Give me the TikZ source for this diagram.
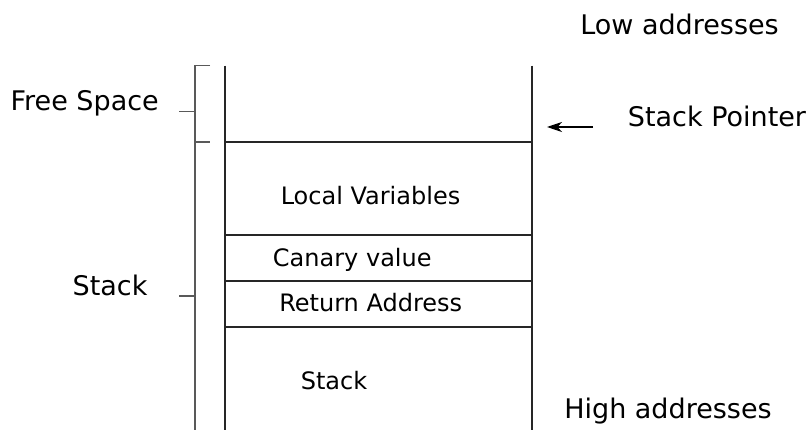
\documentclass[tikz,border=0pt]{standalone}
\usepackage{fontspec}
\setmainfont{DejaVu Sans}
\usetikzlibrary{arrows.meta}
\begin{document}
\begin{tikzpicture}[x=1pt,y=-1pt,
  wall/.style={line width=1.6pt,black!85},
  brk/.style={line width=1.6pt,black!65},
  big/.style={anchor=base,inner sep=0pt,font=\fontsize{27}{30}\selectfont},
  small/.style={anchor=base,inner sep=0pt,font=\fontsize{24}{28}\selectfont}]
\useasboundingbox (0,0) rectangle (808,430);
% frame coordinates
\coordinate (wlt) at (225,65.7);
\coordinate (wlb) at (225,430);
\coordinate (wrt) at (532,65.7);
\coordinate (wrb) at (532,430);
\foreach \n/\y in {1/142.3,2/235,3/281,4/327}{
  \coordinate (hl\n) at (225,\y);
  \coordinate (hr\n) at (532,\y);
}
\draw[wall] (wlt) -- (wlb);
\draw[wall] (wrt) -- (wrb);
\foreach \n in {1,2,3,4}{ \draw[wall] (hl\n) -- (hr\n); }
% brackets
\coordinate (bt) at (194.7,65.7);
\coordinate (btt) at (210,65.7);
\coordinate (bm) at (194.7,142.3);
\coordinate (bmt) at (210,142.3);
\coordinate (bb) at (194.7,430);
\coordinate (f1) at (179,111.7);
\coordinate (f2) at (194.7,111.7);
\coordinate (s1) at (179,295.7);
\coordinate (s2) at (194.7,295.7);
\draw[brk] (btt) -- (bt) -- (bb);
\draw[brk] (bm) -- (bmt);
\draw[brk] (f1) -- (f2);
\draw[brk] (s1) -- (s2);
% arrow
\coordinate (p1) at (593,127);
\coordinate (p2) at (547,127);
\draw[line width=1.1pt,-{Stealth[length=15pt,width=10pt,inset=4.5pt]}] (p1) -- (p2);
% labels
\node[big] (low) at (679.5,35) {Low addresses};
\node[big] (free) at (84.7,110.7) {Free Space};
\node[big] (sp) at (717,126.7) {Stack Pointer};
\node[big] (stk) at (110,295.7) {Stack};
\node[big] (high) at (668,418.3) {High addresses};
\node[small] (loc) at (370.5,205) {Local Variables};
\node[small] (can) at (352.3,266.7) {Canary value};
\node[small] (ret) at (370.7,311.7) {Return Address};
\node[small] (stin) at (334,389) {Stack};
\end{tikzpicture}
\end{document}
